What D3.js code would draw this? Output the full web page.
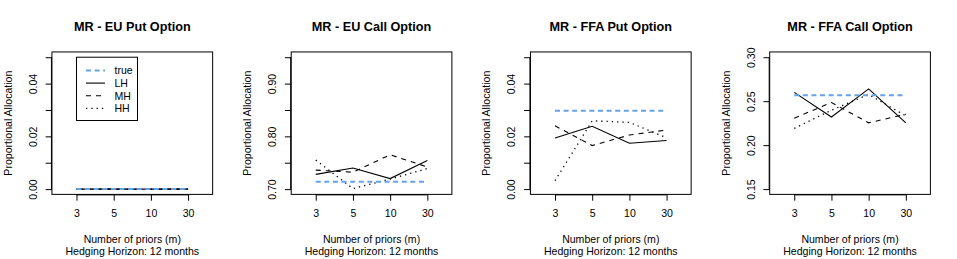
<!DOCTYPE html>
<html><head><meta charset="utf-8">
<script src="https://cdn.jsdelivr.net/npm/d3@7"></script>
<style>
body{margin:0;background:#fff;}
text{font-family:"Liberation Sans",Arial,Helvetica,sans-serif;fill:#000;}
</style></head>
<body>
<svg id="chart" width="957" height="259"></svg>
<script>
const priors = ["3", "5", "10", "30"];
const titles = ["MR - EU Put Option", "MR - EU Call Option", "MR - FFA Put Option", "MR - FFA Call Option"];
const seriesNames = ["true", "LH", "MH", "HH"];
const trueVals = [[0, 0, 0, 0], [0.714, 0.714, 0.714, 0.714], [0.0297, 0.0297, 0.0297, 0.0297], [0.2568, 0.2568, 0.2568, 0.2568]];
const lhVals = [[0, 0, 0, 0], [0.728, 0.740, 0.720, 0.754], [0.0194, 0.0238, 0.0174, 0.0184], [0.260, 0.232, 0.264, 0.2254]];
const mhVals = [[0, 0, 0, 0], [0.736, 0.732, 0.765, 0.742], [0.0240, 0.0165, 0.0205, 0.0224], [0.2307, 0.2485, 0.2254, 0.2352]];
const hhVals = [[0, 0, 0, 0], [0.755, 0.701, 0.719, 0.739], [0.0032, 0.0259, 0.0253, 0.0195], [0.219, 0.2398, 0.2576, 0.2333]];
const yLims = [[0, 0.05], [0.70, 0.95], [0, 0.05], [0.15, 0.30]];
const yTicks = [[0, 0.01, 0.02, 0.03, 0.04, 0.05], [0.70, 0.75, 0.80, 0.85, 0.90, 0.95], [0, 0.01, 0.02, 0.03, 0.04, 0.05], [0.15, 0.20, 0.25, 0.30]];
const yTickLabels = [["0.00", "", "0.02", "", "0.04", ""], ["0.70", "", "0.80", "", "0.90", ""], ["0.00", "", "0.02", "", "0.04", ""], ["0.15", "0.20", "0.25", "0.30"]];
const xLabel1 = "Number of priors (m)";
const xLabel2 = "Hedging Horizon: 12 months";
const yLabel = "Proportional Allocation";

const W = 957, H = 259;
const line = 12.67;
const panelW = W / 4;
const mar = {top: 4.1 * line, left: 4.1 * line, right: 2.1 * line, bottom: 5.1 * line};
const fs = 10.56;
const blue = "#66a3e6";

const styles = {
  "true": {stroke: blue, width: 2, dash: "5,3.6"},
  "LH": {stroke: "#000", width: 1.1, dash: null},
  "MH": {stroke: "#000", width: 1.1, dash: "5,5"},
  "HH": {stroke: "#000", width: 1.3, dash: "1.3,4"}
};

const svg = d3.select("#chart");

for (let p = 0; p < 4; p++) {
  const g = svg.append("g").attr("transform", `translate(${p * panelW},0)`);
  const x0 = mar.left, x1 = panelW - mar.right, y0 = mar.top, y1 = H - mar.bottom;
  const x = d3.scaleLinear().domain([0.5 - 0.16, 4.5 + 0.16]).range([x0, x1]);
  const lim = yLims[p], span = lim[1] - lim[0];
  const y = d3.scaleLinear().domain([lim[0] - 0.04 * span, lim[1] + 0.04 * span]).range([y1, y0]);

  // box
  g.append("rect").attr("x", x0).attr("y", y0).attr("width", x1 - x0).attr("height", y1 - y0)
    .attr("fill", "none").attr("stroke", "#000").attr("stroke-width", 1);

  // x axis
  const xa = d3.axisBottom(x).tickValues([1, 2, 3, 4]).tickFormat((d, i) => priors[i])
    .tickSize(6.3).tickPadding(5);
  const gx = g.append("g").attr("transform", `translate(0,${y1})`).call(xa);
  gx.select(".domain").attr("d", `M${x(1)},0.5H${x(4)}`).attr("stroke", "#000");
  gx.selectAll(".tick line").attr("stroke", "#000");
  gx.selectAll("text").attr("font-size", fs).attr("dy", null).attr("y", 23);
  gx.selectAll(".tick text").attr("font-family", "Liberation Sans, Arial, sans-serif");

  // y axis
  const ya = d3.axisLeft(y).tickValues(yTicks[p]).tickFormat((d, i) => yTickLabels[p][i]).tickSize(6.3);
  const gy = g.append("g").attr("transform", `translate(${x0},0)`).call(ya);
  gy.select(".domain").attr("d", `M-0.5,${y(yTicks[p][0])}V${y(yTicks[p][yTicks[p].length - 1])}`).attr("stroke", "#000");
  gy.selectAll(".tick line").attr("stroke", "#000");
  gy.selectAll(".tick text").attr("font-size", fs).attr("font-family", "Liberation Sans, Arial, sans-serif")
    .attr("x", null).attr("dy", null).attr("text-anchor", "middle")
    .attr("transform", `translate(${36.8 - x0},0) rotate(-90)`);

  // series
  const ln = d3.line().x((d, i) => x(i + 1)).y(d => y(d));
  const data = {"true": trueVals[p], "LH": lhVals[p], "MH": mhVals[p], "HH": hhVals[p]};
  ["LH", "MH", "HH", "true"].forEach(name => {
    const s = styles[name];
    g.append("path").datum(data[name]).attr("d", ln).attr("fill", "none")
      .attr("stroke", s.stroke).attr("stroke-width", s.width)
      .attr("stroke-dasharray", s.dash);
  });

  // title
  g.append("text").attr("x", (x0 + x1) / 2).attr("y", 31).attr("text-anchor", "middle")
    .attr("font-size", 12.67).attr("font-weight", "bold").text(titles[p]);
  // x labels
  g.append("text").attr("x", (x0 + x1) / 2).attr("y", 243.3).attr("text-anchor", "middle")
    .attr("font-size", fs).text(xLabel1);
  g.append("text").attr("x", (x0 + x1) / 2).attr("y", 255.2).attr("text-anchor", "middle")
    .attr("font-size", fs).text(xLabel2);
  // y label
  g.append("text").attr("transform", `translate(11.8,${(y0 + y1) / 2}) rotate(-90)`)
    .attr("text-anchor", "middle").attr("font-size", fs).text(yLabel);

  // legend in first panel
  if (p === 0) {
    const lx = x(1), ly = y(0.05);
    const lg = g.append("g").attr("transform", `translate(${lx},${ly})`);
    lg.append("rect").attr("x", 0).attr("y", 0).attr("width", 61).attr("height", 63.3)
      .attr("fill", "#fff").attr("stroke", "#000").attr("stroke-width", 1);
    seriesNames.forEach((name, i) => {
      const yy = 13.2 + i * line;
      const s = styles[name];
      lg.append("line").attr("x1", 9.5).attr("x2", 28.5).attr("y1", yy).attr("y2", yy)
        .attr("stroke", s.stroke).attr("stroke-width", s.width).attr("stroke-dasharray", s.dash);
      lg.append("text").attr("x", 38).attr("y", yy + 3.8).attr("font-size", fs).text(name);
    });
  }
}
</script>
</body></html>
